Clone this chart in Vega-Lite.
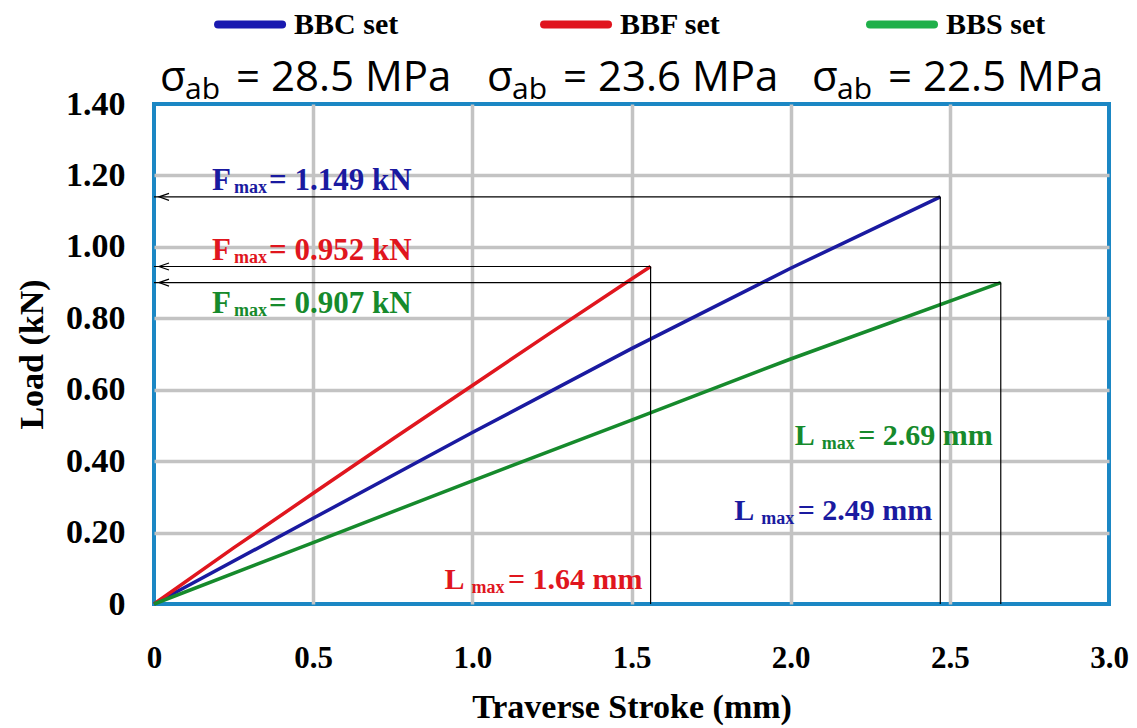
{
  "$schema": "https://vega.github.io/schema/vega-lite/v6.json",
  "width": 955,
  "height": 500,
  "autosize": {"type": "none"},
  "padding": {"left": 154, "top": 104, "right": 28, "bottom": 124},
  "background": "white",
  "config": {
    "view": {"stroke": "#1b87c4", "strokeWidth": 4},
    "font": "Liberation Serif"
  },
  "datasets": {
    "curves": [
      {"series": "BBC set", "mm": 0, "kN": 0},
      {"series": "BBC set", "mm": 0.5, "kN": 0.24},
      {"series": "BBC set", "mm": 1.0, "kN": 0.48},
      {"series": "BBC set", "mm": 1.5, "kN": 0.715},
      {"series": "BBC set", "mm": 2.0, "kN": 0.94},
      {"series": "BBC set", "mm": 2.47, "kN": 1.14},
      {"series": "BBF set", "mm": 0, "kN": 0},
      {"series": "BBF set", "mm": 0.25, "kN": 0.157},
      {"series": "BBF set", "mm": 0.5, "kN": 0.31},
      {"series": "BBF set", "mm": 0.75, "kN": 0.462},
      {"series": "BBF set", "mm": 1.0, "kN": 0.612},
      {"series": "BBF set", "mm": 1.25, "kN": 0.762},
      {"series": "BBF set", "mm": 1.5, "kN": 0.91},
      {"series": "BBF set", "mm": 1.56, "kN": 0.945},
      {"series": "BBS set", "mm": 0, "kN": 0},
      {"series": "BBS set", "mm": 0.5, "kN": 0.172},
      {"series": "BBS set", "mm": 1.0, "kN": 0.345},
      {"series": "BBS set", "mm": 1.5, "kN": 0.515},
      {"series": "BBS set", "mm": 2.0, "kN": 0.686},
      {"series": "BBS set", "mm": 2.66, "kN": 0.9}
    ],
    "ann": [
      {"series": "BBC set", "L": 2.47, "F": 1.14, "ftext": "= 1.149 kN", "ltext": "= 2.49 mm", "ly": 0.234, "sigma": "= 28.5 MPa"},
      {"series": "BBF set", "L": 1.56, "F": 0.945, "ftext": "= 0.952 kN", "ltext": "= 1.64 mm", "ly": 0.043, "sigma": "= 23.6 MPa"},
      {"series": "BBS set", "L": 2.66, "F": 0.9, "ftext": "= 0.907 kN", "ltext": "= 2.69 mm", "ly": 0.444, "sigma": "= 22.5 MPa"}
    ]
  },
  "layer": [
    {
      "data": {"name": "curves"},
      "mark": {"type": "line", "strokeWidth": 3.5},
      "encoding": {
        "x": {
          "field": "mm", "type": "quantitative",
          "scale": {"domain": [0, 3], "nice": false},
          "axis": {
            "title": "Traverse Stroke (mm)",
            "values": [0, 0.5, 1, 1.5, 2, 2.5, 3],
            "labelExpr": "datum.value == 0 ? '0' : format(datum.value, '.1f')",
            "grid": true,
            "gridColor": {"condition": {"test": "datum.value == 0 || datum.value == 3", "value": "transparent"}, "value": "#c3c3c3"},
            "gridWidth": 3.5,
            "ticks": false, "domain": false,
            "labelFont": "Liberation Serif", "labelFontWeight": "bold", "labelFontSize": 31,
            "labelColor": "#000", "labelPadding": 39, "labelFlush": false, "labelOverlap": false,
            "titleFont": "Liberation Serif", "titleFontWeight": "bold", "titleFontSize": 34,
            "titleColor": "#000", "titlePadding": 17
          }
        },
        "y": {
          "field": "kN", "type": "quantitative",
          "scale": {"domain": [0, 1.4], "nice": false},
          "axis": {
            "title": "Load (kN)",
            "values": [0, 0.2, 0.4, 0.6, 0.8, 1.0, 1.2, 1.4],
            "labelExpr": "datum.value == 0 ? '0' : format(datum.value, '.2f')",
            "grid": true,
            "gridColor": {"condition": {"test": "datum.value == 0 || datum.value == 1.4", "value": "transparent"}, "value": "#c3c3c3"},
            "gridWidth": 3.5,
            "ticks": false, "domain": false,
            "labelFont": "Liberation Serif", "labelFontWeight": "bold", "labelFontSize": 34,
            "labelColor": "#000", "labelPadding": 29, "labelFlush": false, "labelOverlap": false,
            "titleFont": "Liberation Serif", "titleFontWeight": "bold", "titleFontSize": 34,
            "titleColor": "#000", "titlePadding": 16
          }
        },
        "color": {
          "field": "series", "type": "nominal",
          "scale": {"domain": ["BBC set", "BBF set", "BBS set"], "range": ["#1a1aa0", "#e0161e", "#168a2c"]},
          "legend": null
        }
      }
    },
    {
      "data": {"name": "ann"},
      "mark": {"type": "rule", "color": "#000", "strokeWidth": 1.2},
      "encoding": {
        "x": {"field": "L", "type": "quantitative"},
        "x2": {"datum": 0},
        "y": {"field": "F", "type": "quantitative"}
      }
    },
    {
      "data": {"name": "ann"},
      "mark": {"type": "rule", "color": "#000", "strokeWidth": 1.2},
      "encoding": {
        "x": {"field": "L", "type": "quantitative"},
        "y": {"field": "F", "type": "quantitative"},
        "y2": {"datum": 0}
      }
    },
    {
      "data": {"name": "ann"},
      "mark": {"type": "point", "shape": "M1,-0.7L-1,0L1,0.7", "filled": false, "size": 100, "strokeWidth": 1.2, "color": "#000", "opacity": 1, "xOffset": 10},
      "encoding": {
        "x": {"datum": 0, "type": "quantitative"},
        "y": {"field": "F", "type": "quantitative"}
      }
    },
    {
      "data": {"name": "ann"},
      "transform": [{"filter": "datum.series != 'BBS set'"}],
      "encoding": {
        "x": {"datum": 0, "type": "quantitative"},
        "y": {"field": "F", "type": "quantitative"},
        "color": {"field": "series", "type": "nominal", "legend": null}
      },
      "layer": [
        {"mark": {"type": "text", "text": "F", "align": "left", "baseline": "alphabetic", "dx": 58, "dy": -7, "fontSize": 31, "fontWeight": "bold", "font": "Liberation Serif"}},
        {"mark": {"type": "text", "text": "max", "align": "left", "baseline": "alphabetic", "dx": 80, "dy": -4, "fontSize": 18, "fontWeight": "bold", "font": "Liberation Serif"}},
        {"mark": {"type": "text", "align": "left", "baseline": "alphabetic", "dx": 115, "dy": -7, "fontSize": 31, "fontWeight": "bold", "font": "Liberation Serif"}, "encoding": {"text": {"field": "ftext"}}}
      ]
    },
    {
      "data": {"name": "ann"},
      "transform": [{"filter": "datum.series == 'BBS set'"}],
      "encoding": {
        "x": {"datum": 0, "type": "quantitative"},
        "y": {"field": "F", "type": "quantitative"},
        "color": {"field": "series", "type": "nominal", "legend": null}
      },
      "layer": [
        {"mark": {"type": "text", "text": "F", "align": "left", "baseline": "alphabetic", "dx": 58, "dy": 30, "fontSize": 31, "fontWeight": "bold", "font": "Liberation Serif"}},
        {"mark": {"type": "text", "text": "max", "align": "left", "baseline": "alphabetic", "dx": 80, "dy": 33, "fontSize": 18, "fontWeight": "bold", "font": "Liberation Serif"}},
        {"mark": {"type": "text", "align": "left", "baseline": "alphabetic", "dx": 115, "dy": 30, "fontSize": 31, "fontWeight": "bold", "font": "Liberation Serif"}, "encoding": {"text": {"field": "ftext"}}}
      ]
    },
    {
      "data": {"name": "ann"},
      "encoding": {
        "x": {"field": "L", "type": "quantitative"},
        "y": {"field": "ly", "type": "quantitative"},
        "color": {"field": "series", "type": "nominal", "legend": null}
      },
      "layer": [
        {"mark": {"type": "text", "text": "L", "align": "right", "baseline": "alphabetic", "dx": -186, "fontSize": 30, "fontWeight": "bold", "font": "Liberation Serif"}},
        {"mark": {"type": "text", "text": "max", "align": "right", "baseline": "alphabetic", "dx": -146, "dy": 4, "fontSize": 18, "fontWeight": "bold", "font": "Liberation Serif"}},
        {"mark": {"type": "text", "align": "right", "baseline": "alphabetic", "dx": -8, "fontSize": 30, "fontWeight": "bold", "font": "Liberation Serif"}, "encoding": {"text": {"field": "ltext"}}}
      ]
    },
    {
      "data": {"name": "ann"},
      "transform": [{"filter": "datum.series == 'BBC set'"}],
      "layer": [
        {"mark": {"type": "point", "shape": "stroke", "size": 4096, "strokeWidth": 8, "strokeCap": "round", "filled": false, "opacity": 1, "xOffset": -44, "color": "#1a1ab0"}, "encoding": {"x": {"datum": 0.44, "type": "quantitative"}, "y": {"datum": 1.6226, "type": "quantitative"}}},
        {"mark": {"type": "text", "align": "left", "baseline": "middle", "fontSize": 30, "fontWeight": "bold", "font": "Liberation Serif", "color": "#000"}, "encoding": {"x": {"datum": 0.44, "type": "quantitative"}, "y": {"datum": 1.6226, "type": "quantitative"}, "text": {"field": "series"}}},
        {"mark": {"type": "text", "text": "σ", "align": "left", "baseline": "alphabetic", "fontSize": 42, "font": "Open Sans", "color": "#000"}, "encoding": {"x": {"datum": 0.019, "type": "quantitative"}, "y": {"datum": 1.4378, "type": "quantitative"}}},
        {"mark": {"type": "text", "text": "ab", "align": "left", "baseline": "alphabetic", "dx": 25, "dy": 8, "fontSize": 30, "font": "Open Sans", "color": "#000"}, "encoding": {"x": {"datum": 0.019, "type": "quantitative"}, "y": {"datum": 1.4378, "type": "quantitative"}}},
        {"mark": {"type": "text", "align": "left", "baseline": "alphabetic", "dx": 76, "fontSize": 42, "font": "Open Sans", "color": "#000"}, "encoding": {"x": {"datum": 0.019, "type": "quantitative"}, "y": {"datum": 1.4378, "type": "quantitative"}, "text": {"field": "sigma"}}}
      ]
    },
    {
      "data": {"name": "ann"},
      "transform": [{"filter": "datum.series == 'BBF set'"}],
      "layer": [
        {"mark": {"type": "point", "shape": "stroke", "size": 4096, "strokeWidth": 8, "strokeCap": "round", "filled": false, "opacity": 1, "xOffset": -44, "color": "#e0141e"}, "encoding": {"x": {"datum": 1.464, "type": "quantitative"}, "y": {"datum": 1.6226, "type": "quantitative"}}},
        {"mark": {"type": "text", "align": "left", "baseline": "middle", "fontSize": 30, "fontWeight": "bold", "font": "Liberation Serif", "color": "#000"}, "encoding": {"x": {"datum": 1.464, "type": "quantitative"}, "y": {"datum": 1.6226, "type": "quantitative"}, "text": {"field": "series"}}},
        {"mark": {"type": "text", "text": "σ", "align": "left", "baseline": "alphabetic", "fontSize": 42, "font": "Open Sans", "color": "#000"}, "encoding": {"x": {"datum": 1.046, "type": "quantitative"}, "y": {"datum": 1.4378, "type": "quantitative"}}},
        {"mark": {"type": "text", "text": "ab", "align": "left", "baseline": "alphabetic", "dx": 25, "dy": 8, "fontSize": 30, "font": "Open Sans", "color": "#000"}, "encoding": {"x": {"datum": 1.046, "type": "quantitative"}, "y": {"datum": 1.4378, "type": "quantitative"}}},
        {"mark": {"type": "text", "align": "left", "baseline": "alphabetic", "dx": 76, "fontSize": 42, "font": "Open Sans", "color": "#000"}, "encoding": {"x": {"datum": 1.046, "type": "quantitative"}, "y": {"datum": 1.4378, "type": "quantitative"}, "text": {"field": "sigma"}}}
      ]
    },
    {
      "data": {"name": "ann"},
      "transform": [{"filter": "datum.series == 'BBS set'"}],
      "layer": [
        {"mark": {"type": "point", "shape": "stroke", "size": 4096, "strokeWidth": 8, "strokeCap": "round", "filled": false, "opacity": 1, "xOffset": -44, "color": "#1fb04a"}, "encoding": {"x": {"datum": 2.488, "type": "quantitative"}, "y": {"datum": 1.6226, "type": "quantitative"}}},
        {"mark": {"type": "text", "align": "left", "baseline": "middle", "fontSize": 30, "fontWeight": "bold", "font": "Liberation Serif", "color": "#000"}, "encoding": {"x": {"datum": 2.488, "type": "quantitative"}, "y": {"datum": 1.6226, "type": "quantitative"}, "text": {"field": "series"}}},
        {"mark": {"type": "text", "text": "σ", "align": "left", "baseline": "alphabetic", "fontSize": 42, "font": "Open Sans", "color": "#000"}, "encoding": {"x": {"datum": 2.067, "type": "quantitative"}, "y": {"datum": 1.4378, "type": "quantitative"}}},
        {"mark": {"type": "text", "text": "ab", "align": "left", "baseline": "alphabetic", "dx": 25, "dy": 8, "fontSize": 30, "font": "Open Sans", "color": "#000"}, "encoding": {"x": {"datum": 2.067, "type": "quantitative"}, "y": {"datum": 1.4378, "type": "quantitative"}}},
        {"mark": {"type": "text", "align": "left", "baseline": "alphabetic", "dx": 76, "fontSize": 42, "font": "Open Sans", "color": "#000"}, "encoding": {"x": {"datum": 2.067, "type": "quantitative"}, "y": {"datum": 1.4378, "type": "quantitative"}, "text": {"field": "sigma"}}}
      ]
    }
  ]
}
